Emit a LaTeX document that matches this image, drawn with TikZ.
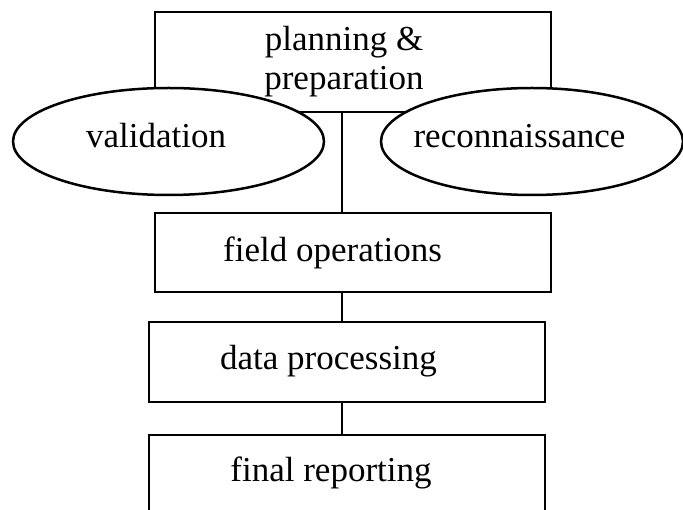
\documentclass[tikz,border=0pt]{standalone}
\usepackage{fontspec}
\setmainfont{Liberation Serif}
\usetikzlibrary{shapes.geometric}
\begin{document}
\begin{tikzpicture}[x=1pt,y=-1pt,
  boxnode/.style={draw=black, line width=2.6pt, rectangle, inner sep=0pt, minimum width=396pt},
  ellnode/.style={draw=black, fill=white, line width=2.5pt, ellipse, inner sep=0pt},
  txt/.style={font=\fontsize{35}{39}\selectfont, inner sep=0pt, anchor=base, align=center},
  link/.style={draw=black, line width=2.6pt}]
\useasboundingbox (0,0) rectangle (683,510);
% boxes
\node[boxnode, minimum height=100pt] (plan) at (353,62) {};
\node[boxnode, minimum height=79pt] (field) at (353,252.5) {};
\node[boxnode, minimum height=80pt] (data) at (347,362) {};
\node[boxnode, minimum height=80pt] (final) at (347,475) {};
% ellipses over the top box
\node[ellnode, minimum width=311pt, minimum height=107pt] (valid) at (168.5,141.5) {};
\node[ellnode, minimum width=302pt, minimum height=107pt] (recon) at (532,141.5) {};
% texts
\node[txt, anchor=center] (plantxt) at (344,62) {planning \&\\preparation};
\node[txt] (validtxt) at (156,148) {validation};
\node[txt] (recontxt) at (519.5,148) {reconnaissance};
\node[txt] (fieldtxt) at (332.5,262) {field operations};
\node[txt] (datatxt) at (328.5,370) {data processing};
\node[txt] (finaltxt) at (331,482) {final reporting};
% connectors
\coordinate (sx) at (342,0);
\draw[link] (plan.south -| sx) -- (field.north -| sx);
\draw[link] (field.south -| sx) -- (data.north -| sx);
\draw[link] (data.south -| sx) -- (final.north -| sx);
\end{tikzpicture}
\end{document}
